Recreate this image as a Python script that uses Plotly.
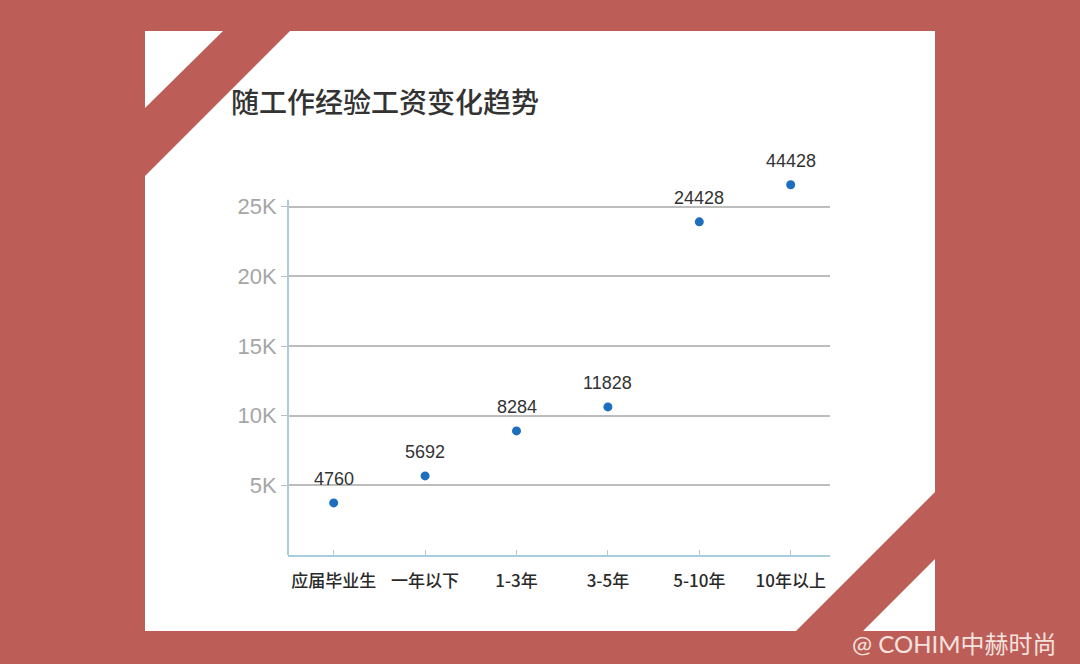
import plotly.graph_objects as go

# ---- data ----
categories = ["应届毕业生", "一年以下", "1-3年", "3-5年", "5-10年", "10年以上"]
plotted_values = [3740, 5680, 8910, 10630, 23920, 26580]
value_labels = ["4760", "5692", "8284", "11828", "24428", "44428"]
y_tick_vals = [5000, 10000, 15000, 20000, 25000]
y_tick_text = ["5K", "10K", "15K", "20K", "25K"]
title_text = "随工作经验工资变化趋势"
watermark = "@ COHIM中赫时尚"

W, H = 1080, 664
RED = "#BC5E57"
AXIS_BLUE = "#A9CEDC"


def px(x):
    return x / W


def py(y):
    return 1 - y / H


def path(points):
    return "M " + " L ".join(f"{px(x):.5f},{py(y):.5f}" for x, y in points) + " Z"


fig = go.Figure()
fig.add_trace(go.Scatter(
    x=categories, y=plotted_values, mode="markers",
    marker=dict(color="#1E6EC0", size=9),
    cliponaxis=False, hoverinfo="skip", showlegend=False,
))

annotations = []
for c, v, t in zip(categories, plotted_values, value_labels):
    annotations.append(dict(
        x=c, y=v, xref="x", yref="y", text=t, showarrow=False,
        yshift=24, font=dict(family="Liberation Sans, Arial", size=18, color="#333333"),
    ))
annotations.append(dict(
    x=px(229), y=py(101), xref="paper", yref="paper", xanchor="left", yanchor="middle",
    text=title_text, showarrow=False,
    font=dict(family="Noto Sans CJK SC", size=28, color="#333333", weight=500),
))
annotations.append(dict(
    x=px(1058), y=py(643), xref="paper", yref="paper", xanchor="right", yanchor="middle",
    text=watermark, showarrow=False,
    font=dict(family="Lato, Noto Sans CJK SC", size=24, color="#F4E2DF"),
))

shapes = [
    dict(type="rect", xref="paper", yref="paper", x0=px(145), x1=px(935), y0=py(631), y1=py(31),
         fillcolor="white", line=dict(width=0), layer="below"),
    dict(type="path", xref="paper", yref="paper",
         path=path([(223, 31), (290, 31), (145, 176), (145, 108)]),
         fillcolor=RED, line=dict(width=0), layer="below"),
    dict(type="path", xref="paper", yref="paper",
         path=path([(935, 492), (935, 559), (863, 631), (796, 631)]),
         fillcolor=RED, line=dict(width=0), layer="below"),
    # y axis line, ending just above the top tick
    dict(type="line", xref="x domain", yref="y", x0=0, x1=0, y0=0, y1=25500,
         line=dict(color=AXIS_BLUE, width=2), layer="above"),
]

fig.update_layout(
    width=W, height=H,
    margin=dict(l=0, r=0, t=0, b=0),
    paper_bgcolor=RED,
    plot_bgcolor="rgba(0,0,0,0)",
    showlegend=False,
    annotations=annotations,
    shapes=shapes,
    xaxis=dict(
        domain=[px(288), px(830)],
        type="category",
        range=[-0.5, 5.43],
        showgrid=False, zeroline=False,
        showline=True, linecolor=AXIS_BLUE, linewidth=2,
        ticks="inside", ticklen=5, tickcolor=AXIS_BLUE,
        tickfont=dict(family="Noto Sans CJK SC", size=17, color="#2a2a2a", weight=500),
        ticklabelstandoff=10,
        fixedrange=True,
    ),
    yaxis=dict(
        domain=[py(555), py(165)],
        range=[0, 28000],
        tickvals=y_tick_vals, ticktext=y_tick_text,
        showgrid=True, gridcolor="#BDBDBD", gridwidth=1.5,
        zeroline=False,
        showline=False,
        ticks="outside", ticklen=6, tickcolor="#BDBDBD",
        tickfont=dict(family="Liberation Sans, Arial", size=22, color="#A6A6A6"),
        fixedrange=True,
    ),
)

fig.write_html(
    "out.html",
    config={"displayModeBar": False},
    post_script="document.body.style.margin='0';document.body.style.background='#BC5E57';",
)
